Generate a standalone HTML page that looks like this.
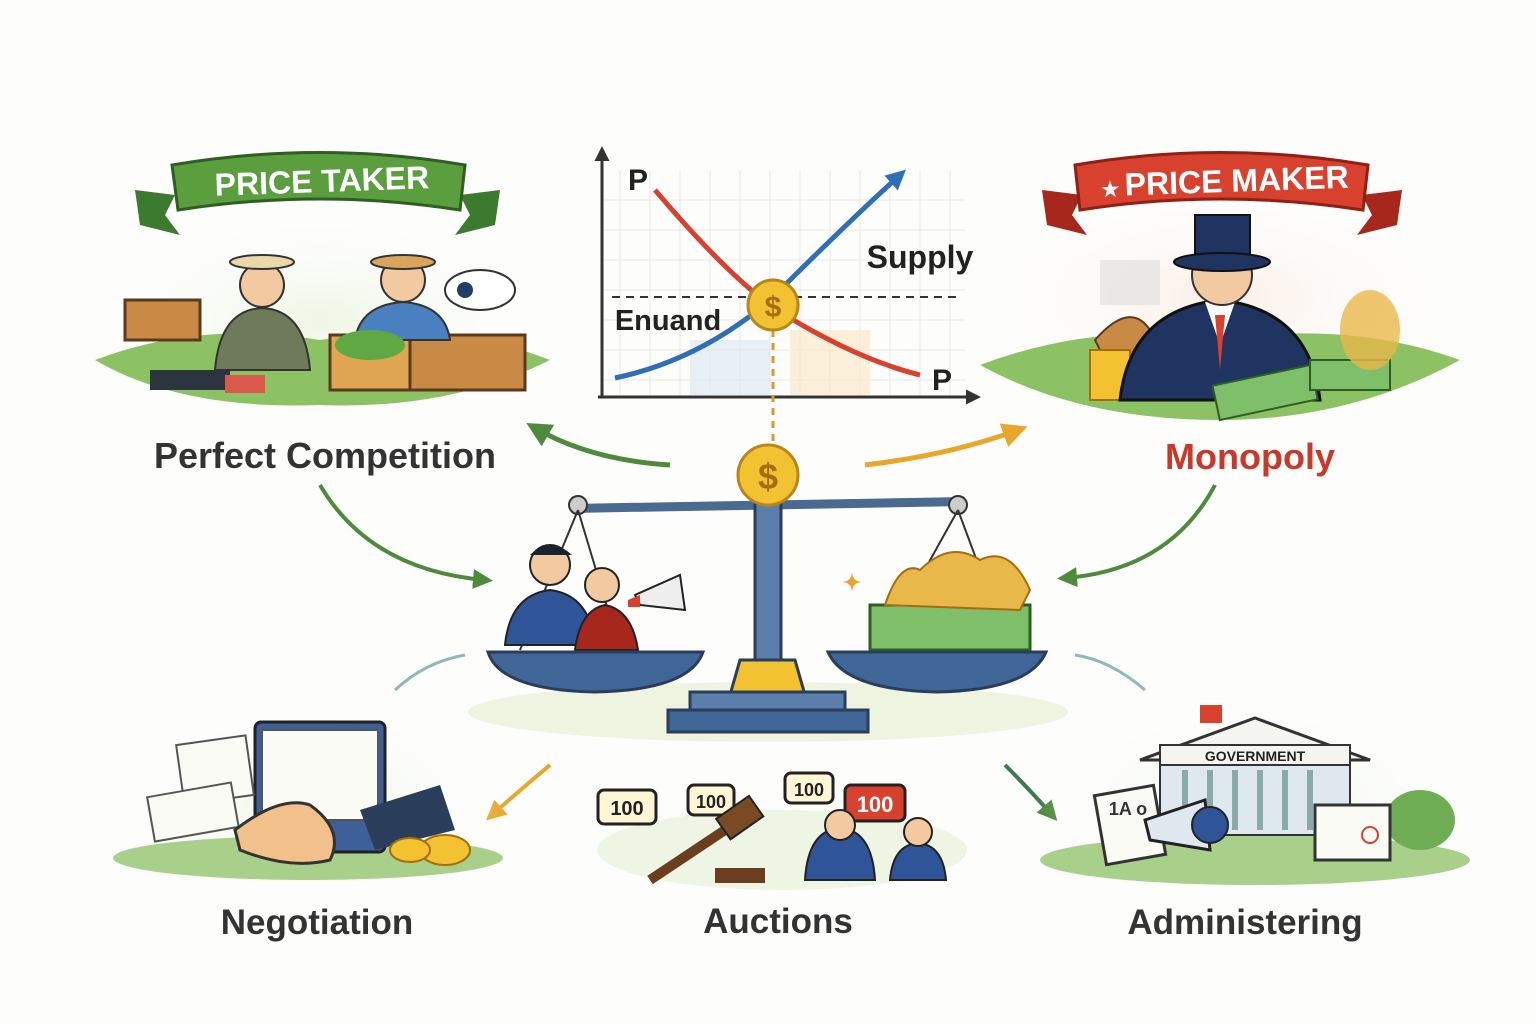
<!DOCTYPE html>
<html><head><meta charset="utf-8"><style>
html,body{margin:0;padding:0;background:#fdfdfc;}
svg{display:block}
text{font-family:"Liberation Sans",sans-serif;font-weight:bold}
</style></head><body>
<svg width="1536" height="1024" viewBox="0 0 1536 1024" xmlns="http://www.w3.org/2000/svg">
<defs>
<marker id="ag" viewBox="0 0 10 10" refX="6" refY="5" markerWidth="5" markerHeight="5" orient="auto"><path d="M0,0L10,5L0,10z" fill="#4e8a3c"/></marker>
<marker id="ao" viewBox="0 0 10 10" refX="6" refY="5" markerWidth="5" markerHeight="5" orient="auto"><path d="M0,0L10,5L0,10z" fill="#e8a62a"/></marker>
<marker id="ab" viewBox="0 0 10 10" refX="6" refY="5" markerWidth="4" markerHeight="4" orient="auto"><path d="M0,0L10,5L0,10z" fill="#2f6fb8"/></marker>
<marker id="ak" viewBox="0 0 10 10" refX="6" refY="5" markerWidth="5" markerHeight="5" orient="auto"><path d="M0,0L10,5L0,10z" fill="#333"/></marker>
<radialGradient id="gs" cx="50%" cy="50%" r="50%"><stop offset="0" stop-color="#eef5e4"/><stop offset="1" stop-color="#fdfdfc" stop-opacity="0"/></radialGradient>
<radialGradient id="rs" cx="50%" cy="40%" r="50%"><stop offset="0" stop-color="#fbeee6"/><stop offset="1" stop-color="#fdfdfc" stop-opacity="0"/></radialGradient>
</defs>

<!-- TOP LEFT scene -->
<ellipse cx="320" cy="320" rx="235" ry="110" fill="url(#gs)"/>
<path d="M95,360 Q200,320 320,340 Q450,320 550,360 Q450,410 320,405 Q180,410 95,360z" fill="#8cc264"/>
<rect x="125" y="300" width="75" height="40" fill="#c98a45" stroke="#5a3a1e" stroke-width="3"/>
<rect x="330" y="335" width="100" height="55" fill="#e0a553" stroke="#5a3a1e" stroke-width="3"/>
<rect x="410" y="335" width="115" height="55" fill="#c98a45" stroke="#5a3a1e" stroke-width="3"/>
<circle cx="262" cy="285" r="22" fill="#f2c9a0" stroke="#333" stroke-width="2"/>
<ellipse cx="262" cy="262" rx="32" ry="7" fill="#e9d9a8" stroke="#333" stroke-width="2"/>
<path d="M215,370 Q220,310 262,308 Q305,310 310,370z" fill="#6f7a5a" stroke="#333" stroke-width="2"/>
<circle cx="403" cy="280" r="22" fill="#f2c9a0" stroke="#333" stroke-width="2"/>
<ellipse cx="403" cy="262" rx="32" ry="7" fill="#d9a55a" stroke="#333" stroke-width="2"/>
<path d="M355,340 Q360,305 403,302 Q445,305 450,340z" fill="#4a7fc0" stroke="#333" stroke-width="2"/>
<ellipse cx="480" cy="290" rx="35" ry="20" fill="#fff" stroke="#333" stroke-width="2"/>
<circle cx="465" cy="290" r="8" fill="#1f3c6a"/>
<ellipse cx="370" cy="345" rx="35" ry="15" fill="#5fa844"/>
<rect x="150" y="370" width="80" height="20" fill="#2c3440"/>
<rect x="225" y="375" width="40" height="18" fill="#d95a4a"/>
<!-- banner -->
<path d="M135,190 L175,195 L165,215 L180,235 L140,225z" fill="#3c7a2f"/>
<path d="M500,190 L460,195 L470,215 L455,235 L495,225z" fill="#3c7a2f"/>
<path d="M172,165 Q320,140 465,165 L460,210 Q320,188 178,210z" fill="#5a9e3e" stroke="#2e5e22" stroke-width="3"/>
<text x="322" y="192" font-size="32" fill="#fff" text-anchor="middle" transform="rotate(-2 322 185)">PRICE TAKER</text>
<text x="325" y="468" font-size="36" fill="#333" text-anchor="middle">Perfect Competition</text>

<!-- GRAPH -->
<g stroke="#e6e6e6" stroke-width="1">
<path d="M620,170V395M650,170V395M680,170V395M710,170V395M740,170V395M770,170V395M800,170V395M830,170V395M860,170V395M890,170V395M920,170V395M950,170V395"/>
<path d="M602,200H965M602,230H965M602,260H965M602,290H965M602,320H965M602,350H965M602,380H965"/>
</g>
<rect x="790" y="330" width="80" height="65" fill="#fbe8cc" opacity=".7"/>
<rect x="690" y="340" width="80" height="55" fill="#dde8f2" opacity=".7"/>
<line x1="602" y1="397" x2="602" y2="152" stroke="#333" stroke-width="3" marker-end="url(#ak)"/>
<line x1="598" y1="397" x2="975" y2="397" stroke="#333" stroke-width="3" marker-end="url(#ak)"/>
<line x1="612" y1="297" x2="962" y2="297" stroke="#333" stroke-width="2" stroke-dasharray="8,6"/>
<path d="M655,190 Q740,290 790,318 Q860,360 920,375" fill="none" stroke="#d9412f" stroke-width="5"/>
<path d="M615,378 Q700,360 770,300 Q850,220 900,175" fill="none" stroke="#2f6fb8" stroke-width="5" marker-end="url(#ab)"/>
<line x1="773" y1="330" x2="773" y2="442" stroke="#d99a2a" stroke-width="3" stroke-dasharray="7,6"/>
<circle cx="773" cy="305" r="25" fill="#f2c230" stroke="#b8861a" stroke-width="3"/>
<text x="773" y="317" font-size="30" fill="#a66d10" text-anchor="middle">$</text>
<text x="638" y="190" font-size="30" fill="#222" text-anchor="middle">P</text>
<text x="920" y="268" font-size="32" fill="#222" text-anchor="middle" font-weight="normal">Supply</text>
<text x="668" y="330" font-size="29" fill="#222" text-anchor="middle" font-weight="normal">Enuand</text>
<text x="942" y="390" font-size="30" fill="#222" text-anchor="middle">P</text>

<!-- TOP RIGHT scene -->
<ellipse cx="1220" cy="320" rx="245" ry="110" fill="url(#rs)"/>
<path d="M980,365 Q1100,320 1220,340 Q1350,320 1460,360 Q1350,420 1220,420 Q1080,420 980,365z" fill="#8cc264"/>
<rect x="1100" y="260" width="60" height="45" fill="#ddd" opacity=".6"/>
<path d="M1120,390 L1095,340 Q1130,300 1150,330 L1180,390z" fill="#c98a45" stroke="#5a3a1e" stroke-width="2"/>
<rect x="1090" y="350" width="40" height="50" fill="#f2c230" stroke="#a66d10" stroke-width="2"/>
<path d="M1120,400 Q1130,310 1220,300 Q1310,310 1320,400z" fill="#1f3460" stroke="#111" stroke-width="3"/>
<path d="M1205,302 L1220,345 L1235,302z" fill="#fff"/>
<path d="M1215,315 L1220,370 L1225,315z" fill="#d9412f"/>
<circle cx="1222" cy="275" r="30" fill="#f2c9a0" stroke="#333" stroke-width="2"/>
<rect x="1195" y="215" width="55" height="45" fill="#1f3460" stroke="#111" stroke-width="2"/>
<ellipse cx="1222" cy="262" rx="48" ry="9" fill="#1f3460" stroke="#111" stroke-width="2"/>
<rect x="1215" y="375" width="100" height="35" fill="#7fbf6a" stroke="#2e5e22" stroke-width="2" transform="rotate(-12 1265 392)"/>
<rect x="1310" y="360" width="80" height="30" fill="#7fbf6a" stroke="#2e5e22" stroke-width="2"/>
<ellipse cx="1370" cy="330" rx="30" ry="40" fill="#e8b84a" opacity=".8"/>
<!-- banner -->
<path d="M1042,190 L1082,195 L1072,215 L1087,235 L1047,225z" fill="#a8271c"/>
<path d="M1402,190 L1362,195 L1372,215 L1357,235 L1397,225z" fill="#a8271c"/>
<path d="M1075,165 Q1220,140 1368,165 L1363,210 Q1220,188 1080,210z" fill="#d9412f" stroke="#8e2015" stroke-width="3"/>
<text x="1225" y="192" font-size="32" fill="#fff" text-anchor="middle" transform="rotate(-2 1225 185)"><tspan font-size="20">★ </tspan>PRICE MAKER</text>
<text x="1250" y="469" font-size="36" fill="#c8392b" text-anchor="middle">Monopoly</text>

<!-- ARROWS -->
<path d="M670,465 Q590,460 535,428" fill="none" stroke="#4e8a3c" stroke-width="5" marker-end="url(#ag)"/>
<path d="M865,465 Q950,455 1018,430" fill="none" stroke="#e8a62a" stroke-width="5" marker-end="url(#ao)"/>
<path d="M320,485 Q370,570 485,580" fill="none" stroke="#4e8a3c" stroke-width="4" marker-end="url(#ag)"/>
<path d="M1215,485 Q1170,570 1065,578" fill="none" stroke="#4e8a3c" stroke-width="4" marker-end="url(#ag)"/>
<path d="M550,765 Q520,790 492,815" fill="none" stroke="#e8a62a" stroke-width="4" marker-end="url(#ao)"/>
<path d="M1005,765 Q1030,790 1052,815" fill="none" stroke="#3f7a4a" stroke-width="4" marker-end="url(#ag)"/>
<path d="M395,690 Q425,662 465,655" fill="none" stroke="#8fb8b8" stroke-width="3"/>
<path d="M1145,690 Q1110,660 1075,655" fill="none" stroke="#8fb8b8" stroke-width="3"/>

<!-- SCALE -->
<ellipse cx="768" cy="712" rx="300" ry="30" fill="#eef4e0"/>
<line x1="578" y1="505" x2="958" y2="505" stroke="#4a6a90" stroke-width="9" transform="rotate(-1 768 505)"/>
<circle cx="578" cy="505" r="9" fill="#ccc" stroke="#333" stroke-width="2"/>
<circle cx="958" cy="505" r="9" fill="#ccc" stroke="#333" stroke-width="2"/>
<path d="M578,510 L520,650M578,510 L620,650M958,510 L880,650M958,510 L1010,650" stroke="#333" stroke-width="2"/>
<rect x="755" y="500" width="26" height="160" fill="#5b7faa" stroke="#2a3e5c" stroke-width="3"/>
<path d="M740,660 H795 L805,695 H730z" fill="#f2c230" stroke="#2a3e5c" stroke-width="3"/>
<rect x="690" y="692" width="155" height="20" fill="#5b7faa" stroke="#2a3e5c" stroke-width="3"/>
<rect x="668" y="710" width="200" height="22" fill="#3f6696" stroke="#2a3e5c" stroke-width="3"/>
<circle cx="768" cy="475" r="30" fill="#f2c230" stroke="#b8861a" stroke-width="3"/>
<text x="768" y="489" font-size="36" fill="#a66d10" text-anchor="middle">$</text>
<!-- left pan contents -->
<path d="M505,645 Q510,595 550,590 Q590,595 595,645z" fill="#2f5598" stroke="#222" stroke-width="2"/>
<circle cx="550" cy="565" r="20" fill="#f2c9a0" stroke="#222" stroke-width="2"/>
<path d="M530,555 Q550,535 572,555z" fill="#1a2230"/>
<path d="M575,650 Q580,610 605,605 Q632,610 638,650z" fill="#a8271c" stroke="#222" stroke-width="2"/>
<circle cx="602" cy="585" r="17" fill="#f2c9a0" stroke="#222" stroke-width="2"/>
<path d="M635,595 L680,575 L685,610 L640,605z" fill="#eee" stroke="#222" stroke-width="2"/>
<path d="M628,600 L640,595 L640,607 L628,607z" fill="#d9412f"/>
<path d="M488,652 H703 Q690,690 595,692 Q500,690 488,652z" fill="#3f6696" stroke="#2a3e5c" stroke-width="3"/>
<!-- right pan contents -->
<rect x="870" y="605" width="160" height="45" fill="#7fbf6a" stroke="#2e5e22" stroke-width="3"/>
<path d="M885,605 Q900,560 920,570 Q950,540 980,560 Q1010,545 1030,590 L1020,610z" fill="#e8b84a" stroke="#a66d10" stroke-width="2"/>
<text x="852" y="590" font-size="22" fill="#e8a62a" text-anchor="middle">✦</text>
<path d="M828,652 H1046 Q1030,690 937,692 Q845,690 828,652z" fill="#3f6696" stroke="#2a3e5c" stroke-width="3"/>

<!-- NEGOTIATION -->
<ellipse cx="308" cy="800" rx="205" ry="95" fill="url(#gs)"/>
<ellipse cx="308" cy="858" rx="195" ry="22" fill="#a9d08a"/>
<rect x="255" y="722" width="130" height="130" rx="6" fill="#3d5f9a" stroke="#222" stroke-width="3"/>
<rect x="262" y="730" width="116" height="90" fill="#fbfbf5" stroke="#555" stroke-width="2"/>
<rect x="180" y="740" width="70" height="60" fill="#fbfbf5" stroke="#555" stroke-width="2" transform="rotate(-8 215 770)"/>
<rect x="150" y="790" width="85" height="45" fill="#fbfbf5" stroke="#555" stroke-width="2" transform="rotate(-10 190 810)"/>
<path d="M235,830 Q280,795 310,805 Q345,830 330,860 Q290,870 240,850z" fill="#f2c08a" stroke="#333" stroke-width="3"/>
<path d="M360,810 L440,785 L455,830 L375,850z" fill="#2a3e5c"/>
<ellipse cx="445" cy="850" rx="25" ry="15" fill="#f2c230" stroke="#a66d10" stroke-width="2"/>
<ellipse cx="410" cy="850" rx="20" ry="12" fill="#f2c230" stroke="#a66d10" stroke-width="2"/>
<text x="317" y="934" font-size="35" fill="#333" text-anchor="middle">Negotiation</text>

<!-- AUCTIONS -->
<ellipse cx="782" cy="850" rx="185" ry="40" fill="#eef5e4"/>
<rect x="598" y="790" width="58" height="34" rx="6" fill="#fff6d6" stroke="#222" stroke-width="3"/>
<text x="627" y="815" font-size="20" fill="#222" text-anchor="middle">100</text>
<rect x="688" y="785" width="46" height="30" rx="6" fill="#fff6d6" stroke="#222" stroke-width="3"/>
<text x="711" y="808" font-size="18" fill="#222" text-anchor="middle">100</text>
<rect x="785" y="773" width="48" height="30" rx="6" fill="#fff6d6" stroke="#222" stroke-width="3"/>
<text x="809" y="796" font-size="18" fill="#222" text-anchor="middle">100</text>
<rect x="845" y="785" width="60" height="36" rx="6" fill="#d9412f" stroke="#222" stroke-width="3"/>
<text x="875" y="812" font-size="22" fill="#fff" text-anchor="middle">100</text>
<path d="M650,880 L740,820" stroke="#6a3e1e" stroke-width="10"/>
<rect x="720" y="805" width="40" height="25" fill="#7a4a24" stroke="#222" stroke-width="2" transform="rotate(-35 740 818)"/>
<rect x="715" y="868" width="50" height="15" fill="#6a3e1e"/>
<path d="M805,880 Q808,830 840,828 Q872,830 875,880z" fill="#2f5598" stroke="#222" stroke-width="2"/>
<circle cx="840" cy="825" r="15" fill="#f2c9a0" stroke="#222" stroke-width="2"/>
<path d="M890,880 Q893,845 918,843 Q943,845 946,880z" fill="#2f5598" stroke="#222" stroke-width="2"/>
<circle cx="918" cy="832" r="14" fill="#f2c9a0" stroke="#222" stroke-width="2"/>
<text x="778" y="933" font-size="35" fill="#333" text-anchor="middle">Auctions</text>

<!-- ADMINISTERING -->
<ellipse cx="1255" cy="800" rx="220" ry="95" fill="url(#gs)"/>
<ellipse cx="1255" cy="860" rx="215" ry="25" fill="#a9d08a"/>
<ellipse cx="1420" cy="820" rx="35" ry="30" fill="#6fae55"/>
<path d="M1140,760 L1255,718 L1370,760z" fill="#f4f4f0" stroke="#333" stroke-width="3"/>
<rect x="1160" y="745" width="190" height="20" fill="#f4f4f0" stroke="#333" stroke-width="2"/>
<text x="1255" y="761" font-size="14" fill="#222" text-anchor="middle">GOVERNMENT</text>
<rect x="1160" y="765" width="190" height="70" fill="#dfe7ef" stroke="#333" stroke-width="2"/>
<path d="M1185,770V830M1210,770V830M1235,770V830M1260,770V830M1285,770V830M1310,770V830" stroke="#8aa" stroke-width="6"/>
<rect x="1200" y="705" width="22" height="18" fill="#d9412f"/>
<rect x="1100" y="790" width="60" height="70" fill="#fbfbf5" stroke="#333" stroke-width="3" transform="rotate(-10 1130 825)"/>
<text x="1128" y="815" font-size="18" fill="#333" text-anchor="middle">1A o</text>
<path d="M1145,820 L1205,800 L1210,850 L1150,840z" fill="#dfe7ef" stroke="#222" stroke-width="3"/>
<circle cx="1210" cy="825" r="18" fill="#2f5598" stroke="#222" stroke-width="2"/>
<rect x="1315" y="805" width="75" height="55" fill="#fbfbf5" stroke="#333" stroke-width="3"/>
<circle cx="1370" cy="835" r="8" fill="none" stroke="#d9412f" stroke-width="2"/>
<text x="1245" y="934" font-size="35" fill="#333" text-anchor="middle">Administering</text>
</svg>
</body></html>
